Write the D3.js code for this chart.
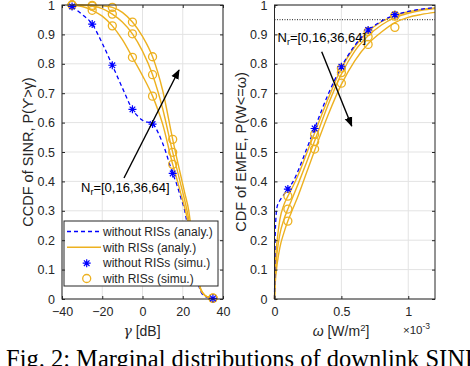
<!DOCTYPE html>
<html>
<head>
<meta charset="utf-8">
<script src="https://cdn.jsdelivr.net/npm/d3@7/dist/d3.min.js"></script>
<style>
  body { margin: 0; background: #fff; }
  svg { display: block; font-family: "Liberation Sans", Arial, sans-serif; }
  .tick text { font-size: 12.5px; fill: #262626; }
  .domain { display: none; }
</style>
</head>
<body>
<svg id="chart" width="470" height="366"></svg>
<script>
// ---- left panel data: CCDF of SINR ----
var gammaGrid = [-35,-30,-25,-20,-15,-10,-5,0,5,10,15,17,19,21,23,25,27,29,31,33,35];
var sinrNoRis = [0.995,0.968,0.935,0.87,0.795,0.718,0.645,0.608,0.595,0.53,0.427,0.39,0.345,0.30,0.22,0.14,0.07,0.025,0.009,0.004,0.002];
var sinrRis16 = [1.0,0.995,0.982,0.962,0.929,0.882,0.822,0.76,0.69,0.595,0.458,0.41,0.36,0.31,0.25,0.155,0.075,0.03,0.012,0.006,0.003];
var sinrRis36 = [1.0,0.999,0.996,0.988,0.969,0.942,0.902,0.843,0.763,0.648,0.499,0.445,0.39,0.335,0.27,0.17,0.078,0.031,0.012,0.006,0.003];
var sinrRis64 = [1.0,1.0,0.999,0.997,0.992,0.975,0.942,0.893,0.824,0.71,0.543,0.48,0.42,0.36,0.30,0.19,0.085,0.033,0.013,0.006,0.003];

var gammaMarks = [-35,-25,-15,-5,5,15,25,35];
var sinrNoRisSim = [0.995,0.935,0.795,0.645,0.595,0.427,0.14,0.002];
var sinrRis16Sim = [1.0,0.982,0.929,0.822,0.69,0.458,0.155,0.003];
var sinrRis36Sim = [1.0,0.996,0.969,0.902,0.763,0.499,0.17,0.003];
var sinrRis64Sim = [1.0,0.999,0.992,0.942,0.824,0.543,0.19,0.003];

// ---- right panel data: CDF of EMFE (omega in 1e-3 W/m^2) ----
var omegaGrid = [0,0.005,0.01,0.02,0.04,0.07,0.1,0.14,0.18,0.24,0.3,0.4,0.5,0.6,0.7,0.8,0.9,1.0,1.1,1.2];
var emfNoRis = [0,0.21,0.27,0.315,0.335,0.355,0.374,0.40,0.44,0.51,0.58,0.695,0.79,0.862,0.913,0.945,0.966,0.978,0.986,0.991];
var emfRis16 = [0,0.10,0.15,0.20,0.27,0.32,0.35,0.385,0.425,0.495,0.565,0.68,0.785,0.858,0.91,0.943,0.964,0.977,0.985,0.99];
var emfRis36 = [0,0.07,0.11,0.16,0.22,0.27,0.306,0.35,0.395,0.465,0.537,0.66,0.765,0.843,0.895,0.932,0.957,0.972,0.982,0.988];
var emfRis64 = [0,0.05,0.08,0.12,0.175,0.225,0.265,0.31,0.355,0.43,0.505,0.625,0.73,0.81,0.868,0.908,0.94,0.958,0.968,0.975];

var omegaMarks = [0.1,0.3,0.5,0.7,0.9];
var emfNoRisSim = [0.374,0.58,0.79,0.915,0.967];
var emfRis16Sim = [0.35,0.56,0.785,0.91,0.965];
var emfRis36Sim = [0.306,0.535,0.77,0.892,0.962];
var emfRis64Sim = [0.265,0.51,0.734,0.866,0.924];

var yTicks = [0,0.1,0.2,0.3,0.4,0.5,0.6,0.7,0.8,0.9,1];
var gammaTicks = [-40,-20,0,20,40];
var omegaTicks = [0,0.5,1];
var legendLabels = ["without RISs (analy.)","with RISs (analy.)","without RISs (simu.)","with RISs (simu.)"];
var nrLabel = "=[0,16,36,64]";

var BLUE = "#0000ff", ORANGE = "#edb120", AXIS = "#262626", GRID = "#e3e3e3";

var svg = d3.select("#chart");
var plotTop = 5, plotBottom = 299;

var y = d3.scaleLinear().domain([0,1]).range([plotBottom, plotTop]);
var xL = d3.scaleLinear().domain([-40,40]).range([62,223]);
var xR = d3.scaleLinear().domain([0,1.2]).range([274.5,435]);

// star (MATLAB '*') path
function star(s){
  var a = s*0.7;
  return "M"+(-s)+",0L"+s+",0M0,"+(-s)+"L0,"+s+"M"+(-a)+","+(-a)+"L"+a+","+a+"M"+(-a)+","+a+"L"+a+","+(-a);
}

function panel(x, xTicks){
  var g = svg.append("g");
  // grid
  g.selectAll(null).data(xTicks).enter().append("line")
    .attr("x1", d => x(d)).attr("x2", d => x(d))
    .attr("y1", plotTop).attr("y2", plotBottom)
    .attr("stroke", GRID).attr("stroke-width", 1);
  g.selectAll(null).data(yTicks).enter().append("line")
    .attr("x1", x.range()[0]).attr("x2", x.range()[1])
    .attr("y1", d => y(d)).attr("y2", d => y(d))
    .attr("stroke", GRID).attr("stroke-width", 1);
  return g;
}

function axes(g, x, xTicks, xFmt){
  var x0 = x.range()[0], x1 = x.range()[1];
  var a = g.append("g");
  a.append("g").attr("transform","translate("+x0+",0)")
    .call(d3.axisLeft(y).tickValues(yTicks).tickSize(-3).tickPadding(7).tickFormat(d3.format("")));
  a.append("g").attr("transform","translate("+x1+",0)")
    .call(d3.axisRight(y).tickValues(yTicks).tickSize(-3).tickFormat(""));
  a.append("g").attr("transform","translate(0,"+plotBottom+")")
    .call(d3.axisBottom(x).tickValues(xTicks).tickSize(-3).tickPadding(8).tickFormat(xFmt));
  a.append("g").attr("transform","translate(0,"+plotTop+")")
    .call(d3.axisTop(x).tickValues(xTicks).tickSize(-3).tickFormat(""));
  a.selectAll(".tick line").attr("stroke", AXIS);
  a.append("rect").attr("x", x0).attr("y", plotTop).attr("width", x1-x0).attr("height", plotBottom-plotTop)
    .attr("fill","none").attr("stroke", AXIS).attr("stroke-width", 1);
}

function curves(g, x, grid, series, dashed){
  var line = d3.line().x((d,i) => x(grid[i])).y(d => y(d)).curve(d3.curveMonotoneX);
  series.forEach(function(s){
    g.append("path").attr("d", line(s)).attr("fill","none")
      .attr("stroke", dashed ? BLUE : ORANGE).attr("stroke-width", dashed ? 1.3 : 1.4)
      .attr("stroke-dasharray", dashed ? "4,3" : null);
  });
}

function circles(g, x, marks, series){
  series.forEach(function(s){
    g.selectAll(null).data(s).enter().append("circle")
      .attr("cx", (d,i) => x(marks[i])).attr("cy", d => y(d)).attr("r", 4)
      .attr("fill","none").attr("stroke", ORANGE).attr("stroke-width", 1.3);
  });
}

function stars(g, x, marks, s){
  g.selectAll(null).data(s).enter().append("path")
    .attr("transform", (d,i) => "translate("+x(marks[i])+","+y(d)+")")
    .attr("d", star(4)).attr("stroke", BLUE).attr("stroke-width", 1.2).attr("fill","none");
}

function arrow(g, x1, y1, x2, y2){
  g.append("line").attr("x1",x1).attr("y1",y1).attr("x2",x2).attr("y2",y2)
    .attr("stroke","#000").attr("stroke-width",1.4).attr("marker-end","url(#ah)");
}

function nrText(g, xx, yy){
  var t = g.append("text").attr("x", xx).attr("y", yy).attr("font-size", 13).attr("fill","#000");
  t.append("tspan").text("N");
  t.append("tspan").attr("font-size", 9).attr("dy", 3).text("r");
  t.append("tspan").attr("dy", -3).text(nrLabel);
}

svg.append("defs").append("marker").attr("id","ah")
  .attr("viewBox","0 0 10 10").attr("refX",9).attr("refY",5)
  .attr("markerWidth",7).attr("markerHeight",7).attr("orient","auto")
  .append("path").attr("d","M0,1L10,5L0,9Z").attr("fill","#000");

// ---- left panel ----
var gl = panel(xL, gammaTicks);
curves(gl, xL, gammaGrid, [sinrNoRis], true);
curves(gl, xL, gammaGrid, [sinrRis16, sinrRis36, sinrRis64], false);
circles(gl, xL, gammaMarks, [sinrRis16Sim, sinrRis36Sim, sinrRis64Sim]);
stars(gl, xL, gammaMarks, sinrNoRisSim);
arrow(gl, 124, 178, 179, 70);
nrText(gl, 81, 192);

// legend
var lg = gl.append("g");
lg.append("rect").attr("x",64).attr("y",221).attr("width",154).attr("height",65)
  .attr("fill","#fff").attr("stroke",AXIS).attr("stroke-width",1);
var rowY = [231.5,247.3,263.2,278.5];
legendLabels.forEach(function(lab,i){
  lg.append("text").attr("x",103).attr("y",rowY[i]).attr("dy","0.35em")
    .attr("font-size",12).attr("fill","#262626").text(lab);
});
lg.append("line").attr("x1",67).attr("x2",101).attr("y1",rowY[0]).attr("y2",rowY[0])
  .attr("stroke",BLUE).attr("stroke-width",1.3).attr("stroke-dasharray","4,3");
lg.append("line").attr("x1",67).attr("x2",101).attr("y1",rowY[1]).attr("y2",rowY[1])
  .attr("stroke",ORANGE).attr("stroke-width",1.4);
lg.append("path").attr("transform","translate(86.7,"+rowY[2]+")").attr("d",star(4))
  .attr("stroke",BLUE).attr("stroke-width",1.2);
lg.append("circle").attr("cx",86.7).attr("cy",rowY[3]).attr("r",4)
  .attr("fill","none").attr("stroke",ORANGE).attr("stroke-width",1.3);

axes(gl, xL, gammaTicks, d3.format(""));

// ---- right panel ----
var gr = panel(xR, omegaTicks);
gr.append("line").attr("x1",xR(0)).attr("x2",xR(1.2)).attr("y1",y(0.95)).attr("y2",y(0.95))
  .attr("stroke","#000").attr("stroke-width",0.9).attr("stroke-dasharray","1,1.5");
curves(gr, xR, omegaGrid, [emfRis16, emfRis36, emfRis64], false);
curves(gr, xR, omegaGrid, [emfNoRis], true);
circles(gr, xR, omegaMarks, [emfRis16Sim, emfRis36Sim, emfRis64Sim]);
stars(gr, xR, omegaMarks, emfNoRisSim);
arrow(gr, 321.7, 51.7, 351.7, 126);
nrText(gr, 277.5, 41.5);
axes(gr, xR, omegaTicks, d3.format(""));

// axis labels
svg.append("text").attr("transform","translate(33,152) rotate(-90)").attr("text-anchor","middle")
  .attr("font-size",14.5).attr("fill","#262626").text("CCDF of SINR, P(\u03d2>\u03b3)");
svg.append("text").attr("transform","translate(245.5,152) rotate(-90)").attr("text-anchor","middle")
  .attr("font-size",14.5).attr("fill","#262626").text("CDF of EMFE, P(W<=\u03c9)");

var gx = svg.append("text").attr("x",142).attr("y",336).attr("text-anchor","middle")
  .attr("font-size",14).attr("fill","#262626");
gx.append("tspan").attr("font-family","'DejaVu Serif', serif").attr("font-style","italic").text("\u03b3");
gx.append("tspan").text("  [dB]");

var ox = svg.append("text").attr("x",341).attr("y",336).attr("text-anchor","middle")
  .attr("font-size",14).attr("fill","#262626");
ox.append("tspan").attr("font-style","italic").text("\u03c9");
ox.append("tspan").text(" [W/m");
ox.append("tspan").attr("font-size",9.5).attr("dy",-5).text("2");
ox.append("tspan").attr("dy",5).text("]");

var ex = svg.append("text").attr("x",403).attr("y",334).attr("font-size",11.5).attr("fill","#262626");
ex.append("tspan").text("\u00d710");
ex.append("tspan").attr("font-size",8.5).attr("dy",-5).text("-3");

// caption (cut off at the bottom edge)
svg.append("text").attr("x",6).attr("y",367).attr("font-family","'Liberation Serif', 'Times New Roman', serif")
  .attr("font-size",24.5).attr("fill","#000").text("Fig. 2: Marginal distributions of downlink SINR");
</script>
</body>
</html>
